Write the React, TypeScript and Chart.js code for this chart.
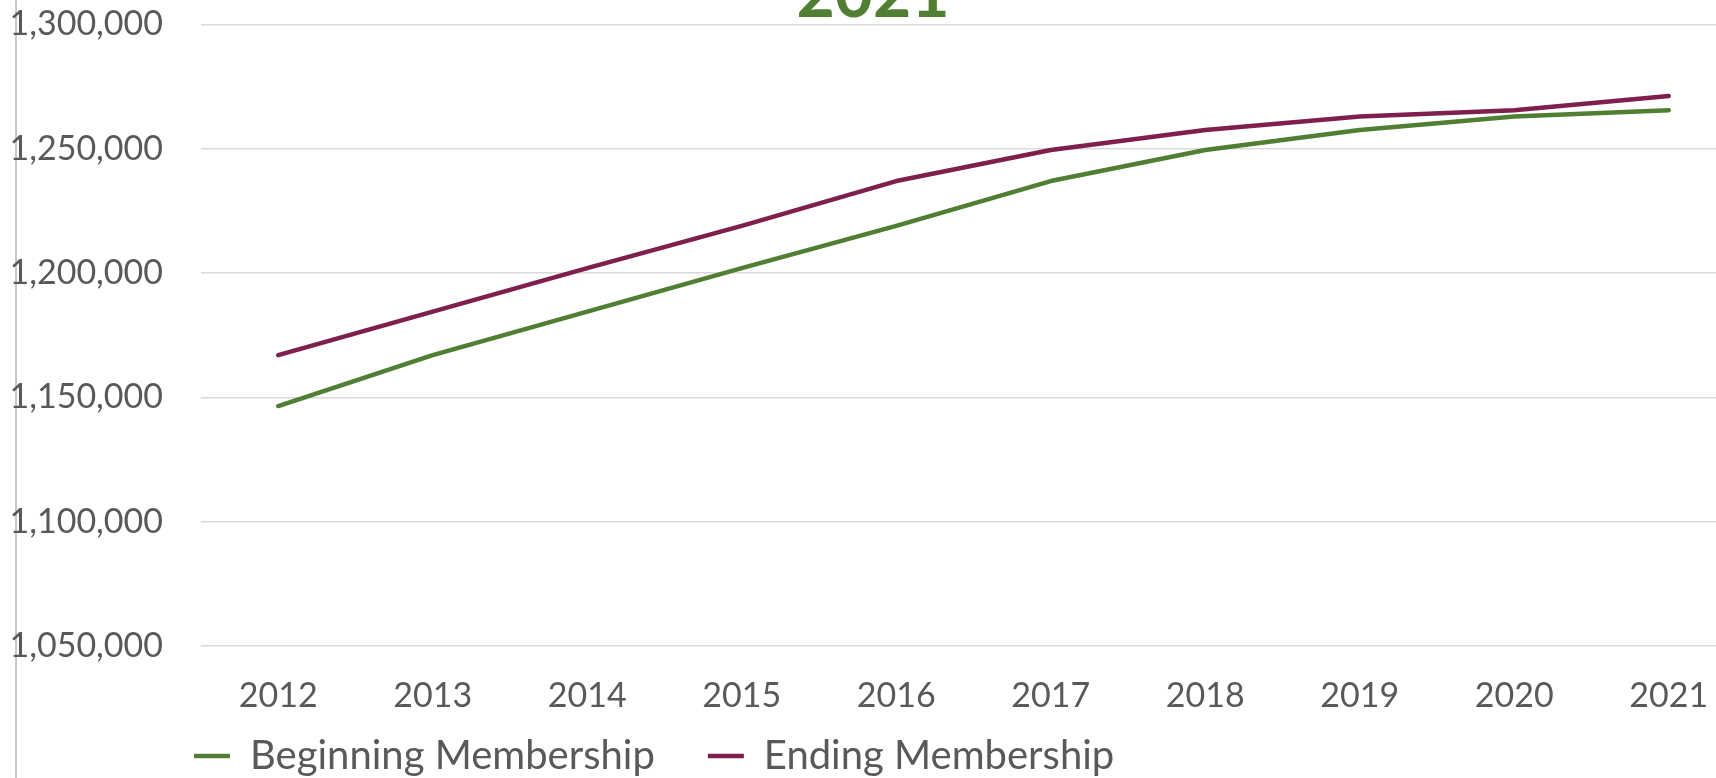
import React, { useEffect, useRef } from "react";
import { Chart, registerables } from "chart.js";

Chart.register(...registerables);

const years = ["2012", "2013", "2014", "2015", "2016", "2017", "2018", "2019", "2020", "2021"];
const beginningMembership = [1146500, 1167000, 1184500, 1202000, 1219000, 1237000, 1249500, 1257500, 1263000, 1265500];
const endingMembership = [1167000, 1184500, 1202000, 1219000, 1237000, 1249500, 1257500, 1263000, 1265500, 1271200];
const seriesNames = ["Beginning Membership", "Ending Membership"];
const titleText = "2021";
const yMin = 1050000;
const yMax = 1300000;
const yStep = 50000;

const GREEN = "#507E32";
const PURPLE = "#7E1F4E";
const TEXT = "#595959";
const FONT = "Lato, 'Open Sans', sans-serif";

const CANVAS_W = 1746;
const CANVAS_H = 810;
const CANVAS_TOP = -34;
const LEGEND_PAD = 53;
const LEGEND_LEFT = 194 - LEGEND_PAD;
const LEGEND_TOP = 770 - LEGEND_PAD;

const legendPlacer = {
  id: "legendPlacer",
  afterLayout(chart: any) {
    const lg = chart.legend;
    if (!lg) return;
    lg.left = LEGEND_LEFT;
    lg.right = chart.width;
    lg.top = LEGEND_TOP;
    lg.bottom = chart.height;
  },
};

export default function App() {
  const ref = useRef<HTMLCanvasElement | null>(null);

  useEffect(() => {
    if (!ref.current) return;
    const chart = new Chart(ref.current, {
      type: "line",
      data: {
        labels: years,
        datasets: [
          {
            label: seriesNames[0],
            data: beginningMembership,
            borderColor: GREEN,
            backgroundColor: GREEN,
            borderWidth: 4.5,
            borderCapStyle: "round",
            borderJoinStyle: "round",
            pointRadius: 0,
            tension: 0,
          },
          {
            label: seriesNames[1],
            data: endingMembership,
            borderColor: PURPLE,
            backgroundColor: PURPLE,
            borderWidth: 4.5,
            borderCapStyle: "round",
            borderJoinStyle: "round",
            pointRadius: 0,
            tension: 0,
          },
        ],
      },
      options: {
        responsive: false,
        animation: false,
        devicePixelRatio: 1,
        layout: { padding: 0 },
        plugins: {
          title: {
            display: true,
            text: titleText,
            color: GREEN,
            font: { family: FONT, size: 66, weight: "bold", lineHeight: 0.88 },
            padding: { top: 0, bottom: 0 },
          },
          legend: {
            display: true,
            position: "bottom",
            align: "start",
            maxHeight: 60,
            labels: {
              usePointStyle: true,
              pointStyle: "line",
              pointStyleWidth: 36,
              boxHeight: 4,
              padding: LEGEND_PAD,
              color: TEXT,
              font: { family: FONT, size: 40 },
            },
          },
          tooltip: { enabled: false },
        },
        scales: {
          x: {
            type: "category",
            offset: true,
            grid: { display: false, drawTicks: false },
            border: { display: false },
            ticks: { color: TEXT, font: { family: FONT, size: 34 }, padding: 30, maxRotation: 0, autoSkip: false },
            afterFit(scale: any) {
              scale.height = 70;
            },
          },
          y: {
            min: yMin,
            max: yMax,
            grid: { color: "#D9D9D9", lineWidth: 1.5, drawTicks: false },
            border: { display: false },
            ticks: {
              stepSize: yStep,
              color: TEXT,
              font: { family: FONT, size: 34 },
              padding: 38,
              callback: (v: any) => Number(v).toLocaleString("en-US"),
            },
            afterFit(scale: any) {
              scale.width = 201;
            },
          },
        },
      },
      plugins: [legendPlacer],
    });
    return () => chart.destroy();
  }, []);

  return (
    <div
      style={{
        position: "fixed",
        left: 0,
        top: 0,
        width: 1716,
        height: 778,
        overflow: "hidden",
        background: "#ffffff",
      }}
    >
      <div
        style={{
          position: "absolute",
          left: 15,
          top: 0,
          width: 2,
          height: 778,
          background: "#C8C8C8",
        }}
      />
      <canvas
        ref={ref}
        width={CANVAS_W}
        height={CANVAS_H}
        style={{ position: "absolute", left: 0, top: CANVAS_TOP, display: "block" }}
      />
    </div>
  );
}
